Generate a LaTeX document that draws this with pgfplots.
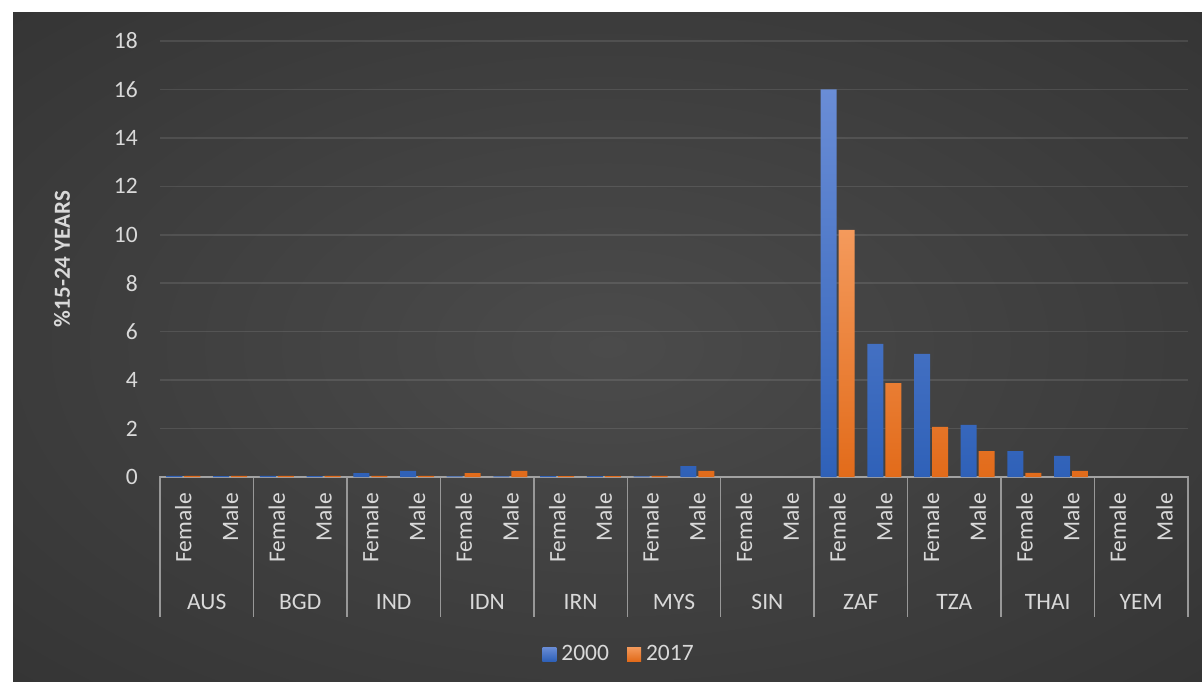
\documentclass[border=0pt]{standalone}
\usepackage{fontspec}
\setmainfont{Carlito}
\usepackage{pgfplots}
\pgfplotsset{compat=1.18}

\definecolor{txt}{HTML}{D9D9D9}
\definecolor{axgray}{HTML}{989898}
\definecolor{bgin}{HTML}{4B4B4B}
\definecolor{bgmid}{HTML}{2C2C2C}
\definecolor{bgout}{HTML}{1E1E1E}
\definecolor{blueT}{HTML}{6A8DD6}
\definecolor{blueB}{HTML}{2F61B8}
\definecolor{orT}{HTML}{F49A5C}
\definecolor{orB}{HTML}{E26B1A}

\pgfdeclareradialshading{chartbg}{\pgfpoint{0bp}{0bp}}{color(0bp)=(bgin); color(50bp)=(bgmid); color(71bp)=(bgout)}

\newcommand{\lbl}{\fontsize{23.5}{28}\selectfont}

\begin{document}
\begin{tikzpicture}[x=1pt,y=1pt]
\useasboundingbox (0,0) rectangle (1202,-681);
\fill[white] (0,0) rectangle (1202,-681);
\shade[shading=chartbg] (13,-12) rectangle (1202,-681);

% category axis and group separators
\draw[axgray, line width=1.5pt] (159,-477) -- (1189,-477);
\foreach \i in {0,...,11}
  \draw[axgray, line width=1.5pt] ({160+93.45*\i},-477) -- ++(0,-140);

\begin{axis}[
  at={(160pt,-477pt)}, anchor=south west,
  scale only axis, width=1028pt, height=436pt,
  xmin=-0.5, xmax=21.5, ymin=0, ymax=18,
  ytick={0,2,...,18}, xtick={0,...,21},
  xticklabels={Female,Male,Female,Male,Female,Male,Female,Male,Female,Male,Female,Male,
               Female,Male,Female,Male,Female,Male,Female,Male,Female,Male},
  axis line style={draw=none}, major tick length=0pt,
  ymajorgrids, grid style={white, opacity=0.1, line width=1.5pt},
  tick label style={font=\lbl, text=txt},
  /pgf/number format/assume math mode=true,
  xticklabel style={rotate=90, anchor=east, inner sep=0pt},
  xticklabel shift=16pt,
  yticklabel style={anchor=east, inner sep=0pt},
  yticklabel shift=22pt,
  ybar=2pt, bar width=16pt,
  every axis plot post/.append style={
    legend image code/.code={\fill[##1] (0pt,-7pt) rectangle (14pt,7pt);}},
  legend style={at={(0.4465,-0.406)}, anchor=center, draw=none, fill=none,
    text=txt, font=\lbl, legend columns=2,
    /tikz/every odd column/.style={column sep=3pt},
    /tikz/every even column/.style={column sep=16pt}},
]
\addplot[top color=blueT, bottom color=blueB, draw=none] coordinates {
  (0,0.05) (1,0.04) (2,0.05) (3,0.04) (4,0.16) (5,0.25) (6,0.03) (7,0.03)
  (8,0.04) (9,0.04) (10,0.03) (11,0.45) (14,16.0) (15,5.5) (16,5.08)
  (17,2.15) (18,1.07) (19,0.87)};
\addplot[top color=orT, bottom color=orB, draw=none] coordinates {
  (0,0.05) (1,0.05) (2,0.05) (3,0.05) (4,0.05) (5,0.05) (6,0.16) (7,0.25)
  (8,0.04) (9,0.04) (10,0.05) (11,0.25) (14,10.2) (15,3.88) (16,2.07)
  (17,1.07) (18,0.17) (19,0.25)};
\legend{2000,2017}
\end{axis}

\foreach \n [count=\i from 0] in {AUS,BGD,IND,IDN,IRN,MYS,SIN,ZAF,TZA,THAI,YEM}
  \node[text=txt, font=\lbl] at ({160+93.45*(\i+0.5)},-602) {\n};

\node[rotate=90, text=txt, font=\bfseries\fontsize{23}{27}\selectfont] at (62,-259) {\%15-24 YEARS};
\end{tikzpicture}
\end{document}
